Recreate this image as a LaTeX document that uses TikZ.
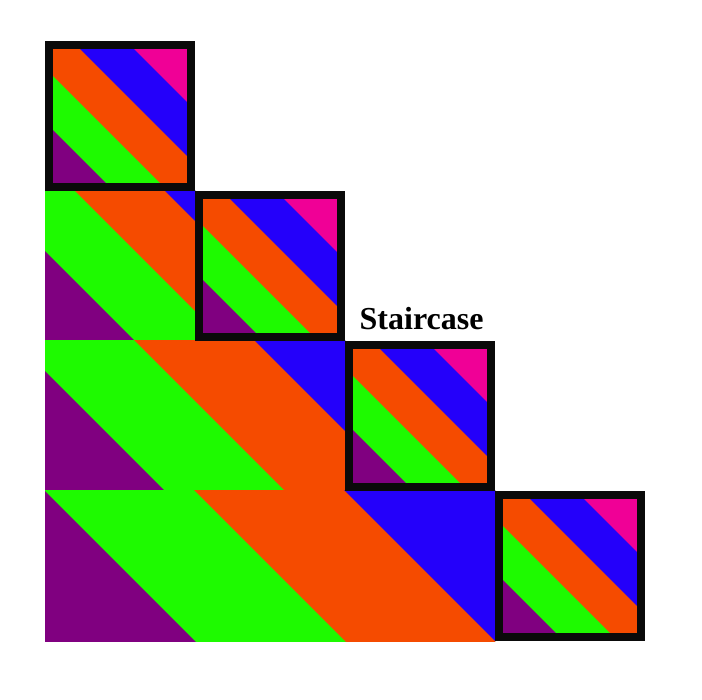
\documentclass[tikz,border=0pt]{standalone}
\usepackage{fontspec}
\setmainfont{Liberation Serif}
\definecolor{cpurple}{RGB}{128,0,128}
\definecolor{cgreen}{RGB}{30,250,0}
\definecolor{corange}{RGB}{245,75,0}
\definecolor{cblue}{RGB}{36,0,250}
\definecolor{cpink}{RGB}{240,0,150}
\definecolor{cframe}{RGB}{10,10,10}
\newcommand{\bandrow}[6]{%
\begin{scope}[shift={(#1,#2)}]
\clip (0,0) rectangle (#3,#4);
\fill[cpurple] (-1,-1) rectangle (#3+1,#4+1);
\foreach \i/\col in {0/cgreen,1/corange,2/cblue,3/cpink}{%
  \pgfmathsetmacro\bndc{#5+\i*#6}
  \fill[\col] (\bndc-10,-10) -- (#3+#4+40,-10) -- (#3+#4+40,#4+10) -- (\bndc+#4+10,#4+10) -- cycle;
}
\end{scope}}
\tikzset{frame/.style={draw=cframe,line width=7.6pt}}
\begin{document}
\begin{tikzpicture}[x=1pt,y=-1pt]
\fill[white] (0,0) rectangle (702,700);
\useasboundingbox (0,0) rectangle (702,700);
% staircase rows
\foreach \k in {2,3,4}{%
  \pgfmathsetmacro\ry{41+150*(\k-1)}
  \pgfmathsetmacro\rw{150*(\k-1)}
  \pgfmathsetmacro\ro{-120+30*\k}
  \pgfmathsetmacro\rd{30+30*\k}
  \bandrow{45}{\ry}{\rw}{150}{\ro}{\rd}
}
% framed squares
\foreach \k in {1,2,3,4}{%
  \pgfmathsetmacro\fx{45+150*(\k-1)}
  \pgfmathsetmacro\fy{41+150*(\k-1)}
  \bandrow{\fx+7.5}{\fy+7.5}{135}{135}{-81}{54}
  \draw[frame] (\fx+3.8,\fy+3.8) rectangle (\fx+146.2,\fy+146.2);
}
\node[anchor=base west,inner sep=0pt,font=\bfseries\fontsize{32}{32}\selectfont] (title) at (359.5,329.5) {Staircase};
\end{tikzpicture}
\end{document}
